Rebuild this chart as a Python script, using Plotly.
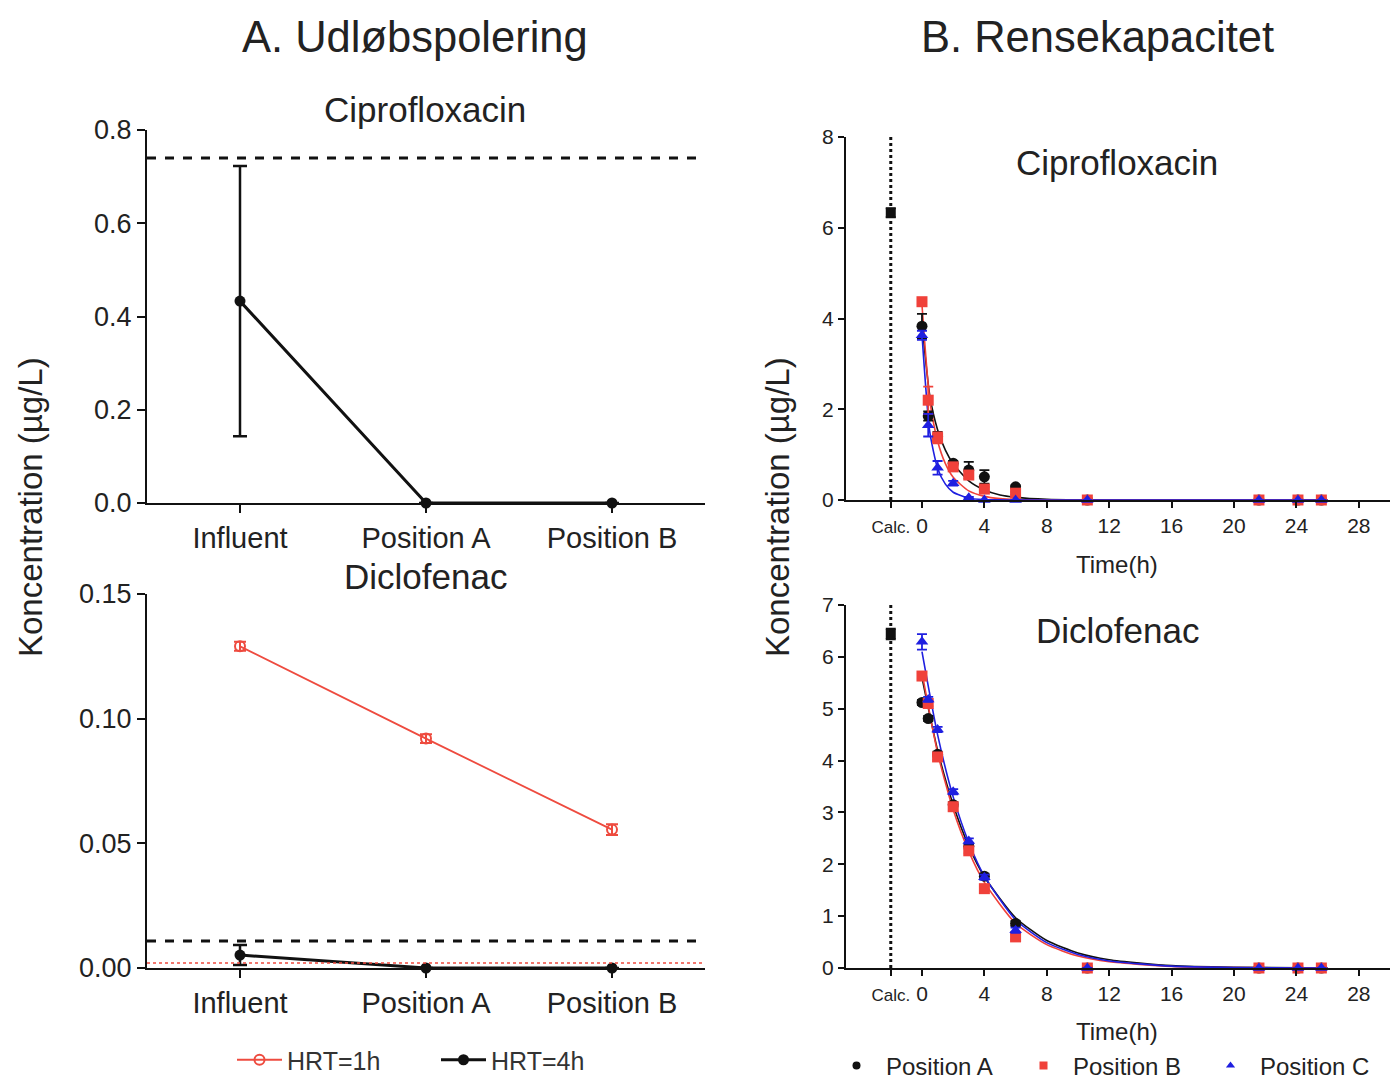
import plotly.graph_objects as go

FONT = "Liberation Sans, Arial, sans-serif"
W, H = 1390, 1079

# ---------------- Data ----------------
categories = ["Influent", "Position A", "Position B"]
cat_pos = [0, 1, 2]

# Panel A - Ciprofloxacin (HRT=4h)
cipro_a_hrt4 = [0.433, 0.0, 0.0]
cipro_a_hrt4_err = [0.29, 0.0, 0.0]
cipro_a_limit = 0.74

# Panel A - Diclofenac
diclo_a_hrt1 = [0.129, 0.092, 0.0555]
diclo_a_hrt1_err = [0.0018, 0.0018, 0.0022]
diclo_a_hrt4 = [0.0052, 0.0, 0.0]
diclo_a_hrt4_err = [0.004, 0.0, 0.0]
diclo_a_limit_black = 0.0108
diclo_a_limit_red = 0.002

# Panel B - time points (h)
calc_x = -2
times = [0, 0.4, 1, 2, 3, 4, 6, 10.6, 21.6, 24.1, 25.6]

# Ciprofloxacin B
cipro_calc = 6.33
cipro_calc_err = 0.1
cipro_A = [3.83, 1.85, 1.40, 0.81, 0.66, 0.51, 0.29, 0, 0, 0, 0]
cipro_A_err = [0.27, 0.1, 0.1, 0.05, 0.18, 0.15, 0.03, 0, 0, 0, 0]
cipro_B = [4.37, 2.20, 1.37, 0.73, 0.55, 0.24, 0.15, 0, 0, 0, 0]
cipro_B_err = [0.05, 0.3, 0.12, 0.05, 0.08, 0.05, 0.03, 0, 0, 0, 0]
cipro_C = [3.63, 1.65, 0.71, 0.37, 0.05, 0.0, 0.0, 0, 0, 0, 0]
cipro_C_err = [0.1, 0.25, 0.15, 0.05, 0.02, 0, 0, 0, 0, 0, 0]

# Fitted curves
fit_t = [0, 0.5, 1, 1.5, 2, 3, 4, 5, 6, 8, 10, 14, 20, 26]
cipro_fit_A = [3.9, 2.3, 1.55, 1.1, 0.8, 0.42, 0.22, 0.11, 0.06, 0.015, 0.004, 0, 0, 0]
cipro_fit_B = [4.3, 2.2, 1.3, 0.8, 0.5, 0.2, 0.08, 0.03, 0.01, 0.002, 0, 0, 0, 0]
cipro_fit_C = [3.65, 1.5, 0.7, 0.35, 0.17, 0.04, 0.01, 0.003, 0, 0, 0, 0, 0, 0]

# Diclofenac B
diclo_calc = 6.44
diclo_calc_err = 0.1
diclo_A = [5.12, 4.81, 4.12, 3.15, 2.35, 1.77, 0.86, 0, 0, 0, 0]
diclo_A_err = [0.05, 0.05, 0.05, 0.05, 0.05, 0.05, 0.05, 0, 0, 0, 0]
diclo_B = [5.63, 5.10, 4.07, 3.11, 2.26, 1.53, 0.60, 0, 0, 0, 0]
diclo_B_err = [0.05, 0.05, 0.05, 0.05, 0.05, 0.05, 0.05, 0, 0, 0, 0]
diclo_C = [6.29, 5.18, 4.60, 3.40, 2.45, 1.75, 0.73, 0, 0, 0, 0]
diclo_C_err = [0.15, 0.05, 0.05, 0.05, 0.05, 0.05, 0.05, 0, 0, 0, 0]

diclo_fit_t = [0, 1, 2, 3, 4, 6, 8, 10, 12, 16, 20, 26]
diclo_fit_A = [5.6, 4.2, 3.15, 2.35, 1.76, 0.97, 0.53, 0.29, 0.16, 0.045, 0.012, 0]
diclo_fit_B = [5.7, 4.15, 3.05, 2.25, 1.65, 0.86, 0.45, 0.23, 0.12, 0.03, 0.008, 0]
diclo_fit_C = [6.1, 4.5, 3.3, 2.42, 1.77, 0.93, 0.49, 0.26, 0.135, 0.037, 0.01, 0]

b_tickvals = [-2, 0, 4, 8, 12, 16, 20, 24, 28]
b_ticktext = ['<span style="font-size:17px">Calc.</span>', "0", "4", "8", "12", "16", "20", "24", "28"]

# ---------------- Colours ----------------
BLACK = "#111111"
TXT = "#222222"
RED_A = "#EE4B3F"
RED_B = "#F0413A"
BLUE = "#1F1FE0"


def px_x(x):
    return x / W


def px_y(y):
    return 1 - y / H


fig = go.Figure()

# Panel A top
fig.add_trace(go.Scatter(
    x=cat_pos, y=cipro_a_hrt4, mode="lines+markers",
    line=dict(color=BLACK, width=3), marker=dict(size=11, color=BLACK),
    error_y=dict(type="data", array=cipro_a_hrt4_err, color=BLACK, thickness=2.5, width=7),
    xaxis="x", yaxis="y", showlegend=False, cliponaxis=False))

# Panel A bottom
fig.add_trace(go.Scatter(
    x=cat_pos, y=diclo_a_hrt1, mode="lines+markers", name="HRT=1h",
    line=dict(color=RED_A, width=1.8),
    marker=dict(size=10, symbol="circle-open", color=RED_A, line=dict(width=2)),
    error_y=dict(type="data", array=diclo_a_hrt1_err, color=RED_A, thickness=2, width=6),
    xaxis="x2", yaxis="y2", legend="legend", cliponaxis=False))
fig.add_trace(go.Scatter(
    x=cat_pos, y=diclo_a_hrt4, mode="lines+markers", name="HRT=4h",
    line=dict(color=BLACK, width=3), marker=dict(size=11, color=BLACK),
    error_y=dict(type="data", array=diclo_a_hrt4_err, color=BLACK, thickness=2.5, width=7),
    xaxis="x2", yaxis="y2", legend="legend", cliponaxis=False))

# Panel B curves + points
def add_b(xa, ya, fit_x, fits, data, errs, calc, calc_err, show):
    colors = [BLACK, RED_B, BLUE]
    symbols = ["circle", "square", "triangle-up"]
    names = ["Position A", "Position B", "Position C"]
    for f, c in zip(fits, colors):
        fig.add_trace(go.Scatter(x=fit_x, y=f, mode="lines", line=dict(color=c, width=1.6, shape="spline", smoothing=0.6),
                                 xaxis=xa, yaxis=ya, showlegend=False, hoverinfo="skip"))
    for d, e, c, s in zip(data, errs, colors, symbols):
        fig.add_trace(go.Scatter(x=times, y=d, mode="markers",
                                 marker=dict(size=11, color=c, symbol=s),
                                 error_y=dict(type="data", array=e, color=c, thickness=1.8, width=5),
                                 xaxis=xa, yaxis=ya, showlegend=False, cliponaxis=False))
    fig.add_trace(go.Scatter(x=[calc_x], y=[calc], mode="markers",
                             marker=dict(size=10, color=BLACK, symbol="square"),
                             error_y=dict(type="data", array=[calc_err], color=BLACK, thickness=2, width=5),
                             xaxis=xa, yaxis=ya, showlegend=False, cliponaxis=False))
    if show:
        for c, s, n in zip(colors, symbols, names):
            fig.add_trace(go.Scatter(x=[None], y=[None], mode="markers", name=n,
                                     marker=dict(size=8, color=c, symbol=s),
                                     xaxis=xa, yaxis=ya, legend="legend2"))


add_b("x3", "y3", fit_t, [cipro_fit_A, cipro_fit_B, cipro_fit_C],
      [cipro_A, cipro_B, cipro_C], [cipro_A_err, cipro_B_err, cipro_C_err],
      cipro_calc, cipro_calc_err, True)
add_b("x4", "y4", diclo_fit_t, [diclo_fit_A, diclo_fit_B, diclo_fit_C],
      [diclo_A, diclo_B, diclo_C], [diclo_A_err, diclo_B_err, diclo_C_err],
      diclo_calc, diclo_calc_err, False)

axis_common = dict(showline=True, linecolor=BLACK, linewidth=2, ticks="outside", ticklen=8,
                   tickwidth=2, tickcolor=BLACK, showgrid=False, zeroline=False,
                   tickfont=dict(family=FONT, size=27, color=TXT))
axis_ax = {**axis_common, "tickfont": dict(family=FONT, size=29, color=TXT)}
axis_b = {**axis_common, "tickfont": dict(family=FONT, size=21, color=TXT), "ticklen": 6}

xa_dom = [px_x(147), px_x(705)]
xb_dom = [px_x(846), 1.0]

fig.update_layout(
    width=W, height=H, margin=dict(l=0, r=0, t=0, b=0, autoexpand=False),
    paper_bgcolor="white", plot_bgcolor="white",
    font=dict(family=FONT, color=TXT),
    xaxis=dict(domain=xa_dom, range=[-0.5, 2.5], tickvals=cat_pos, ticktext=categories, anchor="y", **axis_ax),
    yaxis=dict(domain=[px_y(503), px_y(130)], range=[0, 0.8], dtick=0.2, tickformat=".1f", anchor="x", **axis_common),
    xaxis2=dict(domain=xa_dom, range=[-0.5, 2.5], tickvals=cat_pos, ticktext=categories, anchor="y2", **axis_ax),
    yaxis2=dict(domain=[px_y(968), px_y(594)], range=[0, 0.15], dtick=0.05, tickformat=".2f", anchor="x2", **axis_common),
    xaxis3=dict(domain=xb_dom, range=[-4.87, 30], tickvals=b_tickvals, ticktext=b_ticktext, anchor="y3", **axis_b),
    yaxis3=dict(domain=[px_y(500), px_y(137)], range=[0, 8], dtick=2, anchor="x3", **axis_b),
    xaxis4=dict(domain=xb_dom, range=[-4.87, 30], tickvals=b_tickvals, ticktext=b_ticktext, anchor="y4", **axis_b),
    yaxis4=dict(domain=[px_y(968), px_y(605)], range=[0, 7], dtick=1, anchor="x4", **axis_b),
    legend=dict(orientation="h", x=px_x(232), y=px_y(1060), xanchor="left", yanchor="middle",
                font=dict(family=FONT, size=25, color="#333"), itemwidth=45, entrywidth=144,
                bgcolor="rgba(0,0,0,0)"),
    legend2=dict(orientation="h", x=px_x(827), y=px_y(1066), xanchor="left", yanchor="middle",
                 font=dict(family=FONT, size=24, color=TXT), itemwidth=49, entrywidth=123,
                 bgcolor="rgba(0,0,0,0)"),
)

# Reference lines
fig.add_shape(type="line", xref="x domain", yref="y", x0=0, x1=1, y0=cipro_a_limit, y1=cipro_a_limit,
              line=dict(color=BLACK, width=3, dash="dash"))
fig.add_shape(type="line", xref="x2 domain", yref="y2", x0=0, x1=1, y0=diclo_a_limit_black, y1=diclo_a_limit_black,
              line=dict(color=BLACK, width=3, dash="dash"))
fig.add_shape(type="line", xref="x2 domain", yref="y2", x0=0, x1=1, y0=diclo_a_limit_red, y1=diclo_a_limit_red,
              line=dict(color=RED_A, width=1.5, dash="dot"))
fig.add_shape(type="line", xref="x3", yref="y3 domain", x0=calc_x, x1=calc_x, y0=0, y1=1,
              line=dict(color=BLACK, width=3, dash="dot"))
fig.add_shape(type="line", xref="x4", yref="y4 domain", x0=calc_x, x1=calc_x, y0=0, y1=1,
              line=dict(color=BLACK, width=3, dash="dot"))

def ann(text, x, y, size, angle=0):
    fig.add_annotation(text=text, x=px_x(x), y=px_y(y), xref="paper", yref="paper", showarrow=False,
                       xanchor="center", yanchor="middle", textangle=angle,
                       font=dict(family=FONT, size=size, color=TXT))

ann("A. Udløbspolering", 415, 37, 43.5)
ann("B. Rensekapacitet", 1097, 37, 43.5)
ann("Ciprofloxacin", 425, 110, 35)
ann("Diclofenac", 425, 576, 35)
ann("Ciprofloxacin", 1117, 162, 35)
ann("Diclofenac", 1117, 630, 35)
ann("Time(h)", 1117, 564, 24)
ann("Time(h)", 1117, 1031, 24)
ann("Koncentration (µg/L)", 30, 507, 33, -90)
ann("Koncentration (µg/L)", 777, 507, 33, -90)

fig.write_html("out.html", config={"displayModeBar": False},
               post_script="document.body.style.margin='0px';")
